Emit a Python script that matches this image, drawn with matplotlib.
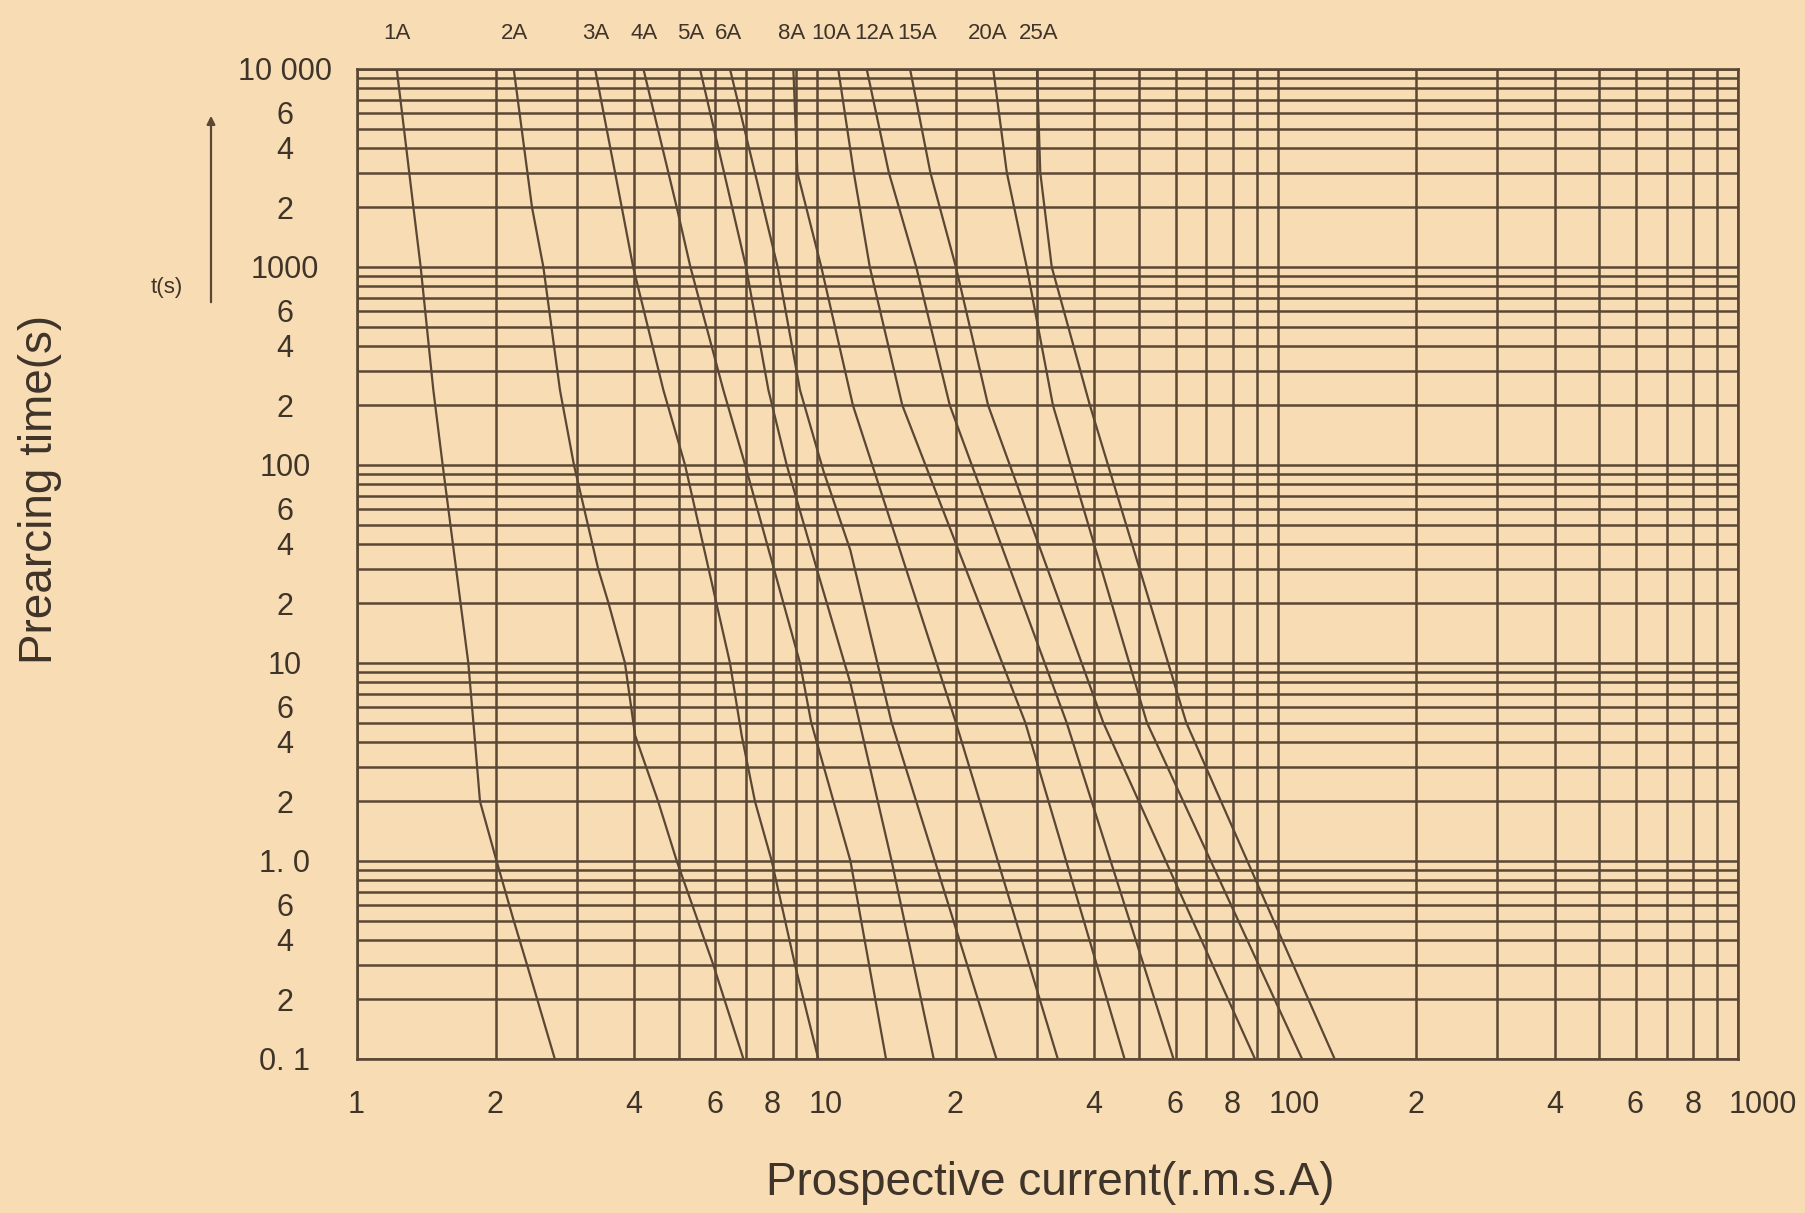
import matplotlib
matplotlib.use("Agg")
import matplotlib.pyplot as plt
import matplotlib.transforms as mtransforms
from matplotlib.ticker import NullLocator, NullFormatter

# ---------------- data ----------------
ratings = ["1A", "2A", "3A", "4A", "5A", "6A", "8A", "10A", "12A", "15A", "20A", "25A"]

current_1A = [1.22, 1.326, 1.375, 1.465, 1.535, 1.745, 1.80, 1.85, 2.01, 2.19, 2.34, 2.69]
time_1A = [10000, 2000, 1000, 239, 100, 10, 4.3, 2, 1, 0.5, 0.3, 0.1]

current_2A = [2.19, 2.40, 2.54, 2.76, 2.96, 3.34, 3.52, 3.82, 4.02, 4.51, 4.95, 5.94, 6.91]
time_2A = [10000, 2000, 1000, 239, 100, 30, 20, 10, 4.3, 2, 1, 0.3, 0.1]

current_3A = [3.29, 3.76, 3.98, 4.63, 5.16, 6.46, 6.85, 7.32, 7.96, 8.94, 10.05]
time_3A = [10000, 2000, 1000, 239, 100, 10, 4.3, 2, 1, 0.3, 0.1]

current_4A = [4.19, 4.95, 5.3, 6.25, 6.97, 9.17, 9.7, 11.8, 14.1]
time_4A = [10000, 2000, 1000, 239, 100, 10, 5, 1, 0.1]

current_5A = [5.56, 7.0, 7.83, 8.58, 10.1, 11.8, 14.5, 17.9]
time_5A = [10000, 1000, 239, 100, 27, 7.9, 1, 0.1]

current_6A = [6.46, 8.2, 9.17, 10.3, 11.8, 14.5, 18.0, 24.5]
time_6A = [10000, 1000, 239, 94, 37, 5, 1, 0.1]

current_8A = [8.87, 9.05, 10.2, 11.95, 20.0, 33.3]
time_8A = [10000, 3000, 1000, 200, 5, 0.1]

current_10A = [11.1, 12.0, 13.0, 15.3, 28.3, 46.5]
time_10A = [10000, 3000, 1000, 200, 5, 0.1]

current_12A = [12.8, 14.3, 16.4, 19.4, 34.8, 59.4]
time_12A = [10000, 3000, 1000, 200, 5, 0.1]

current_15A = [15.9, 17.6, 20.0, 23.5, 41.8, 89.3]
time_15A = [10000, 3000, 1000, 200, 5, 0.1]

current_20A = [24.1, 25.8, 28.5, 32.5, 52.0, 113]
time_20A = [10000, 3000, 1000, 200, 5, 0.1]

current_25A = [30.0, 30.5, 32.3, 39.1, 63.3, 133]
time_25A = [10000, 3000, 1000, 200, 5, 0.1]

currents = [current_1A, current_2A, current_3A, current_4A, current_5A, current_6A,
            current_8A, current_10A, current_12A, current_15A, current_20A, current_25A]
times = [time_1A, time_2A, time_3A, time_4A, time_5A, time_6A,
         time_8A, time_10A, time_12A, time_15A, time_20A, time_25A]

x_tick_values = [1, 2, 4, 6, 8, 10, 20, 40, 60, 80, 100, 200, 400, 600, 800, 1000]
x_tick_labels = ["1", "2", "4", "6", "8", "10", "2", "4", "6", "8", "100", "2", "4", "6", "8", "1000"]
y_tick_values = [0.1, 0.2, 0.4, 0.6, 1, 2, 4, 6, 10, 20, 40, 60, 100, 200, 400, 600,
                 1000, 2000, 4000, 6000, 10000]
y_tick_labels = ["0. 1", "2", "4", "6", "1. 0", "2", "4", "6", "10", "2", "4", "6", "100",
                 "2", "4", "6", "1000", "2", "4", "6", "10 000"]

# ---------------- style / layout ----------------
BG = "#f8dcb4"
INK = "#5a4734"
TXT = "#3f3429"
FONT = ["Liberation Sans", "DejaVu Sans"]
plt.rcParams["font.family"] = FONT
# horizontal anchor (in amperes) of each rating label above the chart
label_anchor = [1.22, 2.2, 3.3, 4.2, 5.3, 6.4, 8.8, 10.7, 13.3, 16.5, 23.4, 30.3]

W, H = 1805, 1213
fig = plt.figure(figsize=(W / 100, H / 100), dpi=100)
fig.patch.set_facecolor(BG)
L, R, T, B = 357, 1738, 69, 1059
ax = fig.add_axes([L / W, 1 - B / H, (R - L) / W, (B - T) / H])
ax.set_facecolor(BG)
ax.set_xscale("log")
ax.set_yscale("log")
ax.set_xlim(1, 1000)
ax.set_ylim(0.1, 10000)

# grid: every 1..9 in each decade
xgrid = [m * 10 ** d for d in range(0, 3) for m in range(1, 10)] + [1000]
ygrid = [m * 10.0 ** d for d in range(-1, 4) for m in range(1, 10)] + [10000]
for xv in xgrid:
    ax.axvline(xv, color=INK, lw=1.8, zorder=1)
for yv in ygrid:
    ax.axhline(yv, color=INK, lw=1.8, zorder=1)

for sp in ax.spines.values():
    sp.set_color(INK)
    sp.set_linewidth(1.9)

# curves
for cur, tm in zip(currents, times):
    ax.plot(cur, tm, color=INK, lw=1.6, zorder=3, solid_joinstyle="round")

# rating labels above the chart
for name, xa in zip(ratings, label_anchor):
    ax.text(xa, 1.036, name, transform=ax.get_xaxis_transform(),
            ha="center", va="center", fontsize=16, color=TXT)

# ticks
ax.xaxis.set_minor_locator(NullLocator())
ax.xaxis.set_minor_formatter(NullFormatter())
ax.set_xticks(x_tick_values)
ax.set_xticklabels(x_tick_labels)
ax.yaxis.set_minor_locator(NullLocator())
ax.yaxis.set_minor_formatter(NullFormatter())
ax.set_yticks(y_tick_values)
ax.set_yticklabels(y_tick_labels)
ax.tick_params(axis="x", length=0, pad=22, labelsize=22, labelcolor=TXT)
ax.tick_params(axis="y", length=0, pad=52, labelsize=22, labelcolor=TXT)
for lab in ax.get_yticklabels():
    lab.set_horizontalalignment("center")
offset = mtransforms.ScaledTranslation(-9 / 100, 0, fig.dpi_scale_trans)
for lab in ax.get_xticklabels():
    lab.set_horizontalalignment("left")
    lab.set_transform(lab.get_transform() + offset)

# axis titles
fig.text(1050 / W, 1 - 1183 / H, "Prospective current(r.m.s.A)", ha="center", va="center",
         fontsize=33, color=TXT)
fig.text(40 / W, 1 - 489 / H, "Prearcing time(s)", ha="center", va="center",
         rotation=90, fontsize=33, color=TXT)

# t(s) with arrow
fig.text(167 / W, 1 - 288 / H, "t(s)", ha="center", va="center", fontsize=16, color=TXT)
ax.annotate("", xy=(211 / W, 1 - 113 / H), xytext=(211 / W, 1 - 305 / H),
            xycoords="figure fraction", textcoords="figure fraction",
            arrowprops=dict(arrowstyle="-|>", color=INK, lw=1.6, mutation_scale=12))

fig.savefig("out.png", dpi=100, facecolor=BG)
